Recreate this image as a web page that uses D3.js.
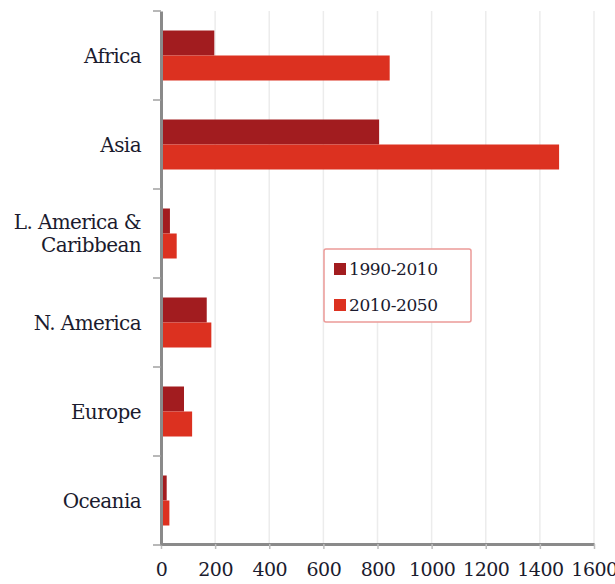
<!DOCTYPE html>
<html><head><meta charset="utf-8">
<script src="https://cdn.jsdelivr.net/npm/d3@7"></script>
<style>
html,body{margin:0;padding:0;background:#fff;}
svg{display:block;}
text{font-family:"DejaVu Serif","Liberation Serif",serif;fill:#1b1b2e;}
</style></head>
<body><svg id="chart" width="615" height="584"></svg>
<script>
const categories = ["Africa","Asia","L. America & Caribbean","N. America","Europe","Oceania"];
const categoryLines = [["Africa"],["Asia"],["L. America &","Caribbean"],["N. America"],["Europe"],["Oceania"]];
const seriesNames = ["1990-2010","2010-2050"];
const values1990_2010 = [197, 806, 33, 169, 85, 21];
const values2010_2050 = [845, 1471, 58, 186, 115, 31];
const xTicks = [0,200,400,600,800,1000,1200,1400,1600];
const colors = ["#a21c1f","#dc3120"];

const svg = d3.select("#chart");
const x = d3.scaleLinear().domain([0,1600]).range([161,594]);
const y = d3.scaleBand().domain(categories).range([11,545]).padding(0);
const yInner = d3.scaleBand().domain(seriesNames).range([0,y.bandwidth()]).paddingInner(0).paddingOuter(0.78);

const seriesVals = [values1990_2010, values2010_2050];

// gridlines
svg.append("g").selectAll("line").data(xTicks.slice(1)).join("line")
  .attr("x1",d=>x(d)).attr("x2",d=>x(d)).attr("y1",11).attr("y2",544)
  .attr("stroke","#ececec").attr("stroke-width",1.5);

// bars
categories.forEach((c,i)=>{
  seriesNames.forEach((s,j)=>{
    svg.append("rect")
      .attr("x",x(0)).attr("y",y(c)+yInner(s))
      .attr("width",x(seriesVals[j][i])-x(0))
      .attr("height",yInner.bandwidth())
      .attr("fill",colors[j]);
  });
});

// x axis
const xAxis = svg.append("g").attr("transform","translate(0,544)")
  .call(d3.axisBottom(x).tickValues(xTicks).tickSize(5).tickSizeOuter(0).tickFormat(d3.format("d")));
xAxis.select(".domain").attr("stroke","#8a8a8a").attr("stroke-width",3);
xAxis.selectAll(".tick line").attr("stroke","#bdbdbd").attr("stroke-width",1.5);
xAxis.selectAll(".tick text").attr("font-size",19).attr("y",32).attr("dy",null)
  .attr("letter-spacing","-0.5")
  .style("font-family","'DejaVu Serif',serif").attr("fill","#1b1b2e");

// y axis
const yAxis = svg.append("g").attr("transform","translate(161,0)")
  .call(d3.axisLeft(y).tickSize(0).tickFormat(""));
yAxis.select(".domain").attr("stroke","#8a8a8a").attr("stroke-width",3);
const bounds = categories.map(c=>y(c)).concat([y.range()[1]]);
svg.append("g").selectAll("line").data(bounds).join("line")
  .attr("x1",153).attr("x2",161).attr("y1",d=>d).attr("y2",d=>d)
  .attr("stroke","#a0a0a0").attr("stroke-width",1.5);

// category labels
categories.forEach((c,i)=>{
  const lines = categoryLines[i];
  const cy = y(c)+y.bandwidth()/2;
  const lh = 23;
  const t = svg.append("text").attr("text-anchor","end").attr("font-size",20)
    .attr("letter-spacing","-0.6");
  lines.forEach((ln,k)=>{
    t.append("tspan").attr("x",141)
      .attr("y",cy + 7 + (k-(lines.length-1)/2)*lh)
      .text(ln);
  });
});

// legend
const lg = svg.append("g").attr("transform","translate(324,249)");
lg.append("rect").attr("x",0).attr("y",0).attr("width",147).attr("height",73)
  .attr("fill","#fff").attr("stroke","#ec9a98").attr("stroke-width",1.5).attr("rx",2);
seriesNames.forEach((s,j)=>{
  lg.append("rect").attr("x",10).attr("y",14+j*36).attr("width",12).attr("height",12).attr("fill",colors[j]);
  lg.append("text").attr("x",25).attr("y",26+j*36).attr("font-size",17).attr("letter-spacing","-0.4").text(s);
});
</script></body></html>
